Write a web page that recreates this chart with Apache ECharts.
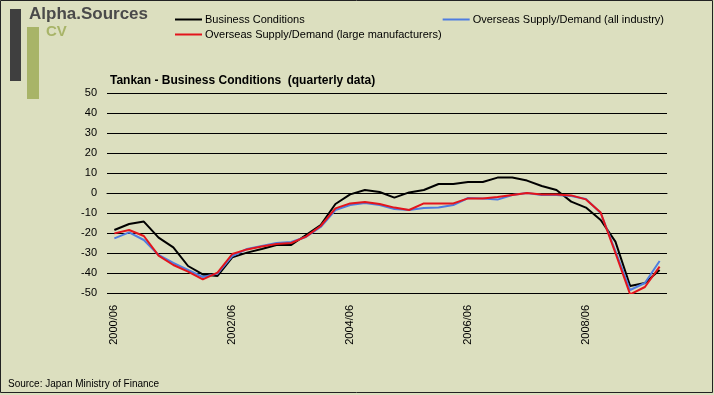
<!DOCTYPE html>
<html><head><meta charset="utf-8">
<script src="https://cdn.jsdelivr.net/npm/echarts@6/dist/echarts.min.js"></script>
<style>html,body{margin:0;padding:0;background:#DCDFBF;}#c{width:714px;height:395px;}</style>
</head><body><div id="c"></div>
<script>
const categories = ['2000/06','2000/09','2000/12','2001/03','2001/06','2001/09','2001/12','2002/03',
 '2002/06','2002/09','2002/12','2003/03','2003/06','2003/09','2003/12','2004/03',
 '2004/06','2004/09','2004/12','2005/03','2005/06','2005/09','2005/12','2006/03',
 '2006/06','2006/09','2006/12','2007/03','2007/06','2007/09','2007/12','2008/03',
 '2008/06','2008/09','2008/12','2009/03','2009/06','2009/09'];
const businessConditions = [-18.5,-15.5,-14.3,-22.3,-27.2,-36.5,-40.7,-41.5,
 -32.2,-29.8,-28,-26,-26,-21,-16,-5.5,
 -0.7,1.5,0.5,-2.3,0.3,1.5,4.5,4.5,
 5.5,5.5,7.7,7.7,6.2,3.5,1.5,-4.3,
 -7.3,-13.5,-24.3,-46.5,-45,-38.5];
const overseasAll = [-22.7,-19.7,-23.5,-31,-35,-38.5,-42,-40.3,
 -31.5,-28,-26.5,-25,-24.5,-22,-17,-8.5,
 -6,-5,-6,-8,-8.5,-7.5,-7.2,-6,
 -2.5,-2.7,-3.3,-1,0,-1,-1,-1.5,
 -3,-10,-29,-48.5,-45,-34];
const overseasLarge = [-20.2,-18.5,-21.5,-31.3,-36,-39.3,-43.2,-39.8,
 -30.5,-28.2,-26.8,-25.5,-25,-21.8,-16.5,-7.7,
 -5.2,-4.5,-5.5,-7.3,-8.5,-5.2,-5.2,-5.2,
 -2.7,-2.7,-2,-1,0,-0.7,-0.7,-1.2,
 -3.2,-9.8,-30,-50.7,-47,-36.8];
const yTicks = {min:-50, max:50, interval:10};
const names = ['Business Conditions','Overseas Supply/Demand (all industry)','Overseas Supply/Demand (large manufacturers)'];

const chart = echarts.init(document.getElementById('c'));
const font = 'Arial, "Liberation Sans", sans-serif';
const legendText = {fontSize:11,color:'#000',fontFamily:font,padding:[0,0,0,-2]};
chart.setOption({
  backgroundColor:'#DCDFBF',
  animation:false,
  textStyle:{fontFamily:font},
  grid:{left:107,right:47,top:93,bottom:102,containLabel:false},
  legend:[
    {data:[names[0],names[1]],left:170,top:9,icon:'rect',itemWidth:27,itemHeight:2,itemGap:138,textStyle:legendText},
    {data:[names[2]],left:170,top:24,icon:'rect',itemWidth:27,itemHeight:2,textStyle:legendText}
  ],
  xAxis:{type:'category',data:categories,boundaryGap:true,
    axisLine:{show:true,lineStyle:{color:'#000',width:1}},
    axisTick:{show:false},
    axisLabel:{interval:7,rotate:90,fontSize:11,color:'#000',margin:12,fontFamily:font},
    splitLine:{show:false}},
  yAxis:{type:'value',min:yTicks.min,max:yTicks.max,interval:yTicks.interval,
    axisLine:{show:false},axisTick:{show:false},
    axisLabel:{fontSize:11,color:'#000',margin:10,fontFamily:font},
    splitLine:{show:true,lineStyle:{color:'#000',width:1}}},
  series:[
    {name:names[0],type:'line',data:businessConditions,symbol:'none',lineStyle:{color:'#000',width:2},itemStyle:{color:'#000'}},
    {name:names[1],type:'line',data:overseasAll,symbol:'none',lineStyle:{color:'#4F7DE0',width:2},itemStyle:{color:'#4F7DE0'}},
    {name:names[2],type:'line',data:overseasLarge,symbol:'none',lineStyle:{color:'#E3141C',width:2},itemStyle:{color:'#E3141C'}}
  ],
  graphic:[
    {type:'rect',shape:{x:0.5,y:0.5,width:712,height:392},style:{fill:null,stroke:'#222',lineWidth:1},silent:true},
    {type:'rect',shape:{x:10,y:9,width:11,height:72},style:{fill:'#3F3F3F'}},
    {type:'rect',shape:{x:27,y:27,width:12,height:72},style:{fill:'#A8B468'}},
    {type:'text',left:29,top:6,style:{text:'Alpha.Sources',font:'bold 17px '+font,fill:'#4A4A4A'}},
    {type:'text',left:46,top:24,style:{text:'CV',font:'bold 15px '+font,fill:'#A8B468'}},
    {type:'text',left:110,top:75,style:{text:'Tankan - Business Conditions  (quarterly data)',font:'bold 12px '+font,fill:'#000'}},
    {type:'text',left:8,top:379,style:{text:'Source: Japan Ministry of Finance',font:'10px '+font,fill:'#000'}}
  ]
});
</script></body></html>
